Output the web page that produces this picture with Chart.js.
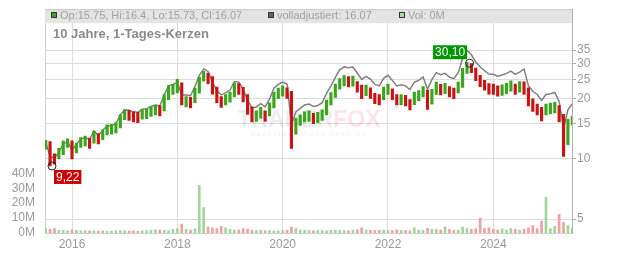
<!DOCTYPE html>
<html>
<head>
<meta charset="utf-8">
<title>10 Jahre, 1-Tages-Kerzen</title>
<script src="https://cdn.jsdelivr.net/npm/chart.js"></script>
<style>
  body { margin: 0; background: #fff; }
  canvas { display: block; }
</style>
</head>
<body>
<canvas id="priceChart" width="632" height="253"></canvas>
<script>
// monthly readings, Jul 2015 .. Jul 2025
const startYear = 2015.5;
const closes = [
  12.0, 10.2, 10.0, 10.7, 11.8, 12.1, 11.0, 11.4, 12.2, 12.4,
  12.1, 13.3, 12.7, 13.4, 14.1, 14.2, 14.5, 15.9, 16.8, 16.7,
  16.4, 16.3, 16.9, 17.0, 17.5, 17.8, 17.6, 20.0, 22.2, 22.5,
  23.0, 19.5, 19.5, 19.3, 21.5, 24.5, 26.3, 25.6, 22.7, 20.5,
  19.5, 20.0, 20.6, 22.8, 22.6, 20.8, 18.0, 16.4, 16.6, 17.2,
  16.6, 18.2, 20.6, 21.5, 22.1, 21.6, 13.5, 15.2, 15.8, 16.4,
  16.6, 16.1, 16.3, 16.8, 18.8, 20.5, 22.6, 24.0, 24.9, 24.6,
  24.8, 23.2, 21.5, 22.3, 21.6, 20.3, 20.0, 21.8, 22.6, 21.3,
  20.0, 20.0, 19.8, 18.9, 20.6, 21.0, 21.9, 19.0, 21.2, 23.0,
  22.5, 22.8, 21.9, 21.5, 23.0, 27.0, 29.8, 28.3, 26.0, 24.5,
  23.5, 22.7, 22.6, 22.1, 22.4, 22.8, 23.4, 22.6, 23.2, 22.5,
  19.8, 18.6, 17.9, 16.7, 17.9, 18.1, 18.3, 16.5, 12.0, 15.0,
  16.07
];
const highs = [
  12.4, 12.2, 10.6, 11.3, 12.3, 12.6, 12.3, 12.0, 12.8, 13.0,
  12.7, 13.8, 13.4, 14.0, 14.8, 14.9, 15.2, 16.6, 17.6, 17.5,
  17.2, 17.1, 17.7, 17.8, 18.3, 18.6, 18.5, 21.0, 23.3, 23.6,
  25.0, 24.0, 20.5, 20.3, 22.6, 25.7, 27.4, 26.9, 25.8, 22.9,
  20.5, 21.0, 21.6, 23.9, 23.8, 22.8, 21.0, 18.2, 17.4, 18.1,
  17.4, 19.1, 21.6, 22.6, 23.2, 22.7, 21.8, 16.0, 16.6, 17.2,
  17.4, 16.9, 17.1, 17.6, 19.7, 21.5, 23.7, 25.2, 26.1, 25.8,
  26.0, 24.4, 23.4, 23.4, 22.7, 21.3, 21.0, 22.9, 23.7, 22.4,
  21.0, 21.0, 20.8, 19.8, 21.6, 22.0, 23.0, 22.1, 22.3, 24.2,
  23.6, 23.9, 23.0, 22.6, 24.2, 28.4, 30.4, 30.0, 28.5, 26.2,
  24.7, 23.8, 23.7, 23.2, 23.5, 23.9, 24.6, 23.7, 24.4, 24.3,
  22.7, 20.0, 18.8, 18.1, 18.8, 19.0, 19.2, 18.5, 16.7, 15.8,
  16.4
];
const lows = [
  11.2, 9.22, 9.4, 10.0, 10.5, 11.4, 10.0, 10.7, 11.4, 11.6,
  11.3, 12.0, 11.9, 12.5, 13.2, 13.3, 13.5, 14.3, 15.7, 15.6,
  15.3, 15.2, 15.8, 15.9, 16.3, 16.6, 16.4, 17.4, 19.8, 21.0,
  21.4, 18.6, 18.2, 18.0, 19.1, 21.3, 24.5, 23.8, 21.1, 19.1,
  18.1, 18.6, 19.2, 20.4, 21.0, 19.3, 16.7, 15.3, 15.4, 16.0,
  15.4, 16.4, 18.0, 20.0, 20.6, 20.1, 11.3, 13.3, 14.7, 15.3,
  15.4, 15.0, 15.2, 15.6, 16.6, 18.6, 20.3, 22.3, 23.2, 22.9,
  23.1, 21.6, 20.0, 20.7, 20.1, 18.9, 18.6, 19.8, 21.0, 19.8,
  18.6, 18.6, 18.4, 17.6, 18.7, 19.5, 20.4, 17.7, 18.8, 21.0,
  20.9, 21.2, 20.4, 20.0, 21.4, 22.8, 26.8, 27.0, 24.6, 23.0,
  22.1, 21.1, 21.0, 20.6, 20.8, 21.2, 21.8, 21.0, 21.6, 21.0,
  18.4, 17.3, 16.6, 15.5, 16.6, 16.8, 17.0, 15.3, 10.3, 11.8,
  14.8
];
const adjusted = [
  12.1, 10.3, 10.1, 10.8, 11.9, 12.2, 11.1, 11.8, 12.6, 12.8,
  12.5, 13.8, 13.1, 13.9, 14.6, 14.7, 15.0, 16.6, 17.6, 17.5,
  17.2, 17.1, 17.7, 17.8, 18.3, 18.6, 18.4, 20.9, 23.2, 23.6,
  24.1, 20.9, 20.9, 20.7, 23.0, 26.2, 28.2, 27.4, 24.3, 22.0,
  20.9, 21.4, 22.1, 24.4, 24.2, 22.3, 19.7, 18.0, 18.2, 18.9,
  18.2, 19.9, 22.6, 23.6, 24.2, 23.7, 14.8, 17.2, 17.9, 18.6,
  18.8, 18.3, 18.5, 19.1, 21.3, 23.2, 25.6, 27.9, 28.9, 28.6,
  28.8, 26.9, 25.0, 25.9, 25.1, 23.6, 23.2, 25.3, 26.2, 24.7,
  23.2, 23.5, 23.2, 22.2, 24.2, 24.7, 25.7, 22.3, 24.9, 27.0,
  26.4, 26.8, 25.7, 25.2, 27.0, 31.7, 35.0, 33.2, 30.5, 28.8,
  27.6, 26.6, 26.5, 25.9, 26.3, 26.8, 27.5, 26.5, 27.2, 28.2,
  23.2, 21.8, 21.0, 19.6, 21.0, 21.2, 21.5, 19.4, 14.1, 17.6,
  18.9
];
// volume in millions
const volumes = [
  3.5, 2.5, 3.0, 2.0, 1.8, 1.5, 2.2, 1.8, 1.5, 1.6,
  1.4, 1.5, 1.3, 1.4, 1.2, 1.3, 1.5, 1.6, 1.4, 1.3,
  1.5, 1.2, 1.4, 1.6, 1.8, 2.2, 2.0, 1.8, 1.7, 2.5,
  3.0, 6.0, 2.5, 2.0, 2.8, 32.0, 17.0, 4.0, 3.5, 3.0,
  4.5, 3.5, 2.5, 2.0, 2.2, 2.8, 2.5, 1.8, 1.6, 1.8,
  1.5, 1.6, 1.4, 1.5, 1.6, 1.8, 4.0, 3.0, 2.0, 1.8,
  1.6, 1.5, 1.8, 1.6, 1.5, 1.8, 2.0, 1.8, 1.6, 1.5,
  1.8, 2.2, 3.5, 2.0, 1.8, 1.6, 1.8, 2.0, 1.8, 1.6,
  2.2, 1.8, 1.6, 1.5, 3.5, 2.0, 1.8, 3.2, 2.5, 2.5,
  2.0, 4.2, 2.5, 1.8, 2.0, 4.0, 3.0, 2.5, 2.8, 10.0,
  3.0, 3.5, 2.5, 2.0, 2.8, 2.0, 3.0, 2.5, 2.0, 2.5,
  3.5, 5.0, 3.0, 8.0, 24.0, 3.0, 4.5, 12.5, 7.0, 5.0,
  3.5
];
const yearTicks = [2016, 2018, 2020, 2022, 2024];
const priceTicks = [5, 10, 15, 20, 25, 30, 35];
const volTicks = [0, 10, 20, 30, 40];
const lowMark = { x: 2015.62, y: 9.22 };
const highMark = { x: 2023.55, y: 30.10 };
const lastQuote = { op: 15.75, hi: 16.4, lo: 15.73, cl: 16.07, adj: 16.07, vol: 0 };

const FONT = '"Liberation Sans", Arial, sans-serif';
const GREEN = 'rgb(60,165,30)';
const RED = 'rgb(200,20,20)';

const monthX = closes.map((_, i) => startYear + i / 12);
const isUp = closes.map((c, i) => i === 0 || c >= closes[i - 1]);

const fmt = v => v.toFixed(2).replace('.', ',');

const decor = {
  id: 'decor',
  beforeDatasetsDraw(chart) {
    // faint watermark
    const ctx = chart.ctx;
    const cx = 309;
    ctx.save();
    ctx.font = 'bold 23px ' + FONT;
    ctx.textBaseline = 'alphabetic';
    const w1 = ctx.measureText('TRADER').width;
    const w2 = ctx.measureText('FOX').width;
    const x0 = cx - (w1 + w2) / 2;
    ctx.fillStyle = 'rgba(0,0,0,0.07)';
    ctx.fillText('TRADER', x0, 127);
    ctx.fillStyle = 'rgba(230,70,70,0.14)';
    ctx.fillText('FOX', x0 + w1, 127);
    ctx.font = '6px ' + FONT;
    ctx.fillStyle = 'rgba(0,0,0,0.08)';
    ctx.textAlign = 'center';
    ctx.fillText('R E A L T I M E   S T O C K   T R A D I N G', cx, 136);
    ctx.restore();
  },
  afterDraw(chart) {
    const ctx = chart.ctx;
    const a = chart.chartArea;
    const xs = chart.scales.x, ys = chart.scales.y;
    ctx.save();
    // header band with legend
    ctx.fillStyle = '#e4e4e4';
    ctx.fillRect(a.left, a.top, a.right - a.left, 14);
    ctx.strokeStyle = '#c8c8c8';
    ctx.lineWidth = 1;
    ctx.beginPath();
    ctx.moveTo(a.left, a.top + 0.5);
    ctx.lineTo(a.right, a.top + 0.5);
    ctx.stroke();
    const items = [
      { x: 51, fill: GREEN, text: `Op:${lastQuote.op}, Hi:${lastQuote.hi}, Lo:${lastQuote.lo}, Cl:${lastQuote.cl}` },
      { x: 268, fill: '#666', text: `volladjustiert: ${lastQuote.adj}` },
      { x: 399, fill: '#a8dca0', text: `Vol: ${lastQuote.vol}M` }
    ];
    ctx.font = '11px ' + FONT;
    ctx.textBaseline = 'middle';
    items.forEach(it => {
      ctx.fillStyle = it.fill;
      ctx.fillRect(it.x, 12, 6, 6);
      ctx.strokeStyle = '#333';
      ctx.strokeRect(it.x + 0.5, 12.5, 5, 5);
      ctx.fillStyle = '#a0a0a0';
      ctx.fillText(it.text, it.x + 9, 15.5);
    });
    ctx.font = 'bold 13px ' + FONT;
    ctx.fillStyle = '#8a8a8a';
    ctx.textBaseline = 'alphabetic';
    ctx.fillText('10 Jahre, 1-Tages-Kerzen', 53, 38);

    // low / high markers
    const marks = [
      { m: lowMark, bg: 'rgb(204,0,0)', dx: 2, dy: 4, align: 'left' },
      { m: highMark, bg: 'rgb(0,150,0)', dx: -2.5, dy: -18, align: 'right' }
    ];
    marks.forEach(k => {
      const px = xs.getPixelForValue(k.m.x);
      const py = ys.getPixelForValue(k.m.y);
      ctx.beginPath();
      ctx.arc(px, py, 4, 0, Math.PI * 2);
      ctx.strokeStyle = '#222';
      ctx.lineWidth = 1;
      ctx.stroke();
      ctx.font = '12px ' + FONT;
      const label = fmt(k.m.y);
      const w = ctx.measureText(label).width + 4;
      const left = k.align === 'left' ? px + k.dx : px + k.dx - w;
      const top = py + k.dy;
      ctx.fillStyle = k.bg;
      ctx.fillRect(left, top, w, 14);
      ctx.fillStyle = '#fff';
      ctx.textBaseline = 'middle';
      ctx.fillText(label, left + 2, top + 7.5);
    });
    ctx.restore();
  }
};

const tickFont = { family: FONT, size: 12 };

new Chart(document.getElementById('priceChart'), {
  type: 'bar',
  data: {
    datasets: [
      {
        type: 'line',
        label: 'volladjustiert',
        data: monthX.map((x, i) => ({ x: x, y: adjusted[i] })),
        borderColor: 'rgb(128,128,128)',
        borderWidth: 1.5,
        pointRadius: 0,
        tension: 0,
        yAxisID: 'y',
        order: 2
      },
      {
        label: 'Kerzen',
        data: monthX.map((x, i) => ({ x: x, y: [lows[i], highs[i]] })),
        backgroundColor: isUp.map(u => u ? GREEN : RED),
        barThickness: 2.5,
        grouped: false,
        yAxisID: 'y',
        order: 1
      },
      {
        label: 'Vol',
        data: monthX.map((x, i) => ({ x: x, y: volumes[i] })),
        backgroundColor: isUp.map(u => u ? 'rgb(160,215,150)' : 'rgb(240,160,160)'),
        barThickness: 2,
        grouped: false,
        yAxisID: 'yVol',
        order: 3
      }
    ]
  },
  options: {
    responsive: false,
    animation: false,
    devicePixelRatio: 1,
    layout: { padding: { top: 8, left: 0, right: 0, bottom: 0 } },
    plugins: { legend: { display: false }, tooltip: { enabled: false } },
    scales: {
      x: {
        type: 'linear',
        min: 2015.487,
        max: 2025.494,
        offset: false,
        afterBuildTicks: s => { s.ticks = yearTicks.map(v => ({ value: v })); },
        afterFit: s => { s.height = 20; },
        ticks: { callback: v => String(v), color: '#9a9a9a', font: tickFont, padding: 4, maxRotation: 0, autoSkip: false },
        grid: { color: '#dcdcdc', drawTicks: false, offset: false },
        border: { color: '#cfcfcf' }
      },
      y: {
        type: 'logarithmic',
        position: 'right',
        min: 4.26,
        max: 56.1,
        afterBuildTicks: s => { s.ticks = priceTicks.map(v => ({ value: v })); },
        afterFit: s => { s.width = 60; },
        ticks: { callback: v => String(v), color: '#9a9a9a', font: tickFont, padding: 1, autoSkip: false },
        grid: { color: '#dcdcdc', tickLength: 4, tickColor: '#aaa' },
        border: { color: '#b0b0b0' }
      },
      yVol: {
        type: 'linear',
        position: 'left',
        min: 0,
        max: 150,
        afterBuildTicks: s => { s.ticks = volTicks.map(v => ({ value: v })); },
        afterFit: s => { s.width = 45; },
        ticks: { callback: v => v + 'M', color: '#9a9a9a', font: tickFont, padding: 2, autoSkip: false },
        grid: { display: false },
        border: { color: '#cfcfcf' }
      }
    }
  },
  plugins: [decor]
});
</script>
</body>
</html>
